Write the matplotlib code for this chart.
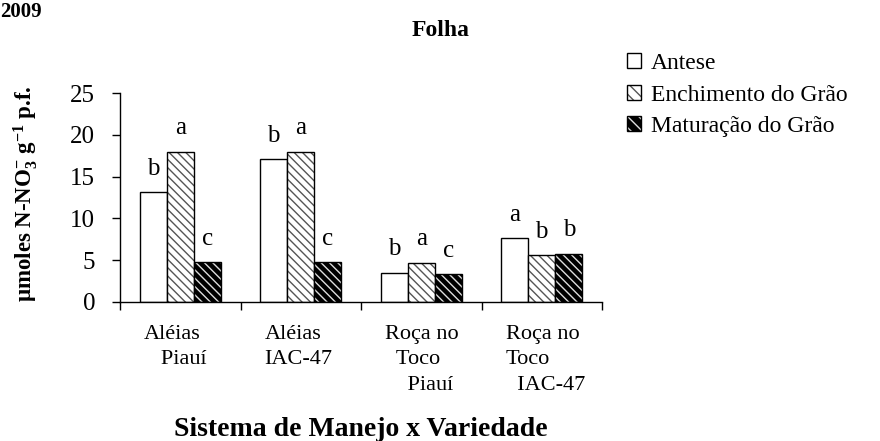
import matplotlib
matplotlib.use("Agg")
import matplotlib.pyplot as plt
import numpy as np
from matplotlib.patches import Patch

plt.rcParams['font.family'] = ['Liberation Serif', 'DejaVu Serif']
plt.rcParams['mathtext.fontset'] = 'custom'
plt.rcParams['mathtext.rm'] = 'Liberation Serif:bold'
plt.rcParams['mathtext.it'] = 'Liberation Serif:italic:bold'
plt.rcParams['mathtext.bf'] = 'Liberation Serif:bold'
plt.rcParams['hatch.linewidth'] = 1.0

categories = ["Aléias\n   Piauí", "Aléias\nIAC-47", "Roça no\n  Toco\n    Piauí", "Roça no\nToco\n  IAC-47"]
series_names = ["Antese", "Enchimento do Grão", "Maturação do Grão"]
antese = [13.1, 17.1, 3.5, 7.6]
enchimento = [18.0, 18.0, 4.7, 5.6]
maturacao = [4.8, 4.8, 3.3, 5.8]
letters_antese = ['b', 'b', 'b', 'a']
letters_enchimento = ['a', 'a', 'a', 'b']
letters_maturacao = ['c', 'c', 'c', 'b']
yticks = [0, 5, 10, 15, 20, 25]

fig = plt.figure(figsize=(8.8, 4.41), dpi=100)
ax = fig.add_axes([120/880, 1-302/441, 482/880, 209/441])

x = np.arange(len(categories))
w = 0.225
hatch = '\\\\\\\\'

ax.bar(x - w, antese, w, facecolor='white', edgecolor='black', linewidth=1.0)
ax.bar(x, enchimento, w, facecolor='white', edgecolor='#555555', hatch=hatch, linewidth=0)
ax.bar(x, enchimento, w, fill=False, edgecolor='black', linewidth=1.0)
ax.bar(x + w, maturacao, w, facecolor='black', edgecolor='#dddddd', hatch=hatch, linewidth=0)
ax.bar(x + w, maturacao, w, fill=False, edgecolor='black', linewidth=1.0)

for vals, lets, off in [(antese, letters_antese, -w), (enchimento, letters_enchimento, 0), (maturacao, letters_maturacao, w)]:
    for xi, v, l in zip(x, vals, lets):
        ax.annotate(l, (xi + off, v), xytext=(0, 12.5), textcoords='offset points',
                    ha='center', va='baseline', fontsize=18)

ax.set_xlim(-0.5, 3.5)
ax.set_ylim(0, 25)
ax.set_yticks(yticks)
ax.tick_params(axis='y', labelsize=18, length=6, width=1, pad=12, direction='out')
ax.set_xticks([-0.5, 0.5, 1.5, 2.5, 3.5])
ax.set_xticklabels([])
ax.tick_params(axis='x', length=6, width=1, direction='out')
for xi, lab in zip(x, categories):
    ax.text(xi - 0.3, -0.11, lab, transform=ax.get_xaxis_transform(), ha='left', va='top',
            fontsize=16, linespacing=1.45, multialignment='left')

for s in ['top', 'right']:
    ax.spines[s].set_visible(False)
ax.spines['left'].set_linewidth(1)
ax.spines['bottom'].set_linewidth(1)

ax.set_ylabel(r'µmoles N-NO$_3^{-}$ g$^{-1}$ p.f.', fontsize=16.5, fontweight='bold')
ax.yaxis.set_label_coords(-0.165, 0.52)

fig.text(361/880, 1-429/441, 'Sistema de Manejo x Variedade', ha='center', va='center',
         fontsize=20, fontweight='bold')
fig.text(441/880, 1-31/441, 'Folha', ha='center', va='center', fontsize=17, fontweight='bold')
fig.text(0.0, 1-17/441, '2009', ha='left', va='baseline', fontsize=15, fontweight='bold')

h1 = Patch(facecolor='white', edgecolor='black', linewidth=1)
h2 = (Patch(facecolor='white', edgecolor='#555555', hatch='\\\\\\', linewidth=0),
      Patch(fill=False, edgecolor='black', linewidth=1))
h3 = (Patch(facecolor='black', edgecolor='#dddddd', hatch='\\\\\\', linewidth=0),
      Patch(fill=False, edgecolor='black', linewidth=1))
leg = fig.legend([h1, h2, h3], series_names, loc='upper left', bbox_to_anchor=(627/880, 1-53/441),
                 frameon=False, fontsize=17, handlelength=0.6, handleheight=0.6,
                 handletextpad=0.4, labelspacing=0.45, borderaxespad=0, borderpad=0)

fig.savefig('out.png', dpi=100)
